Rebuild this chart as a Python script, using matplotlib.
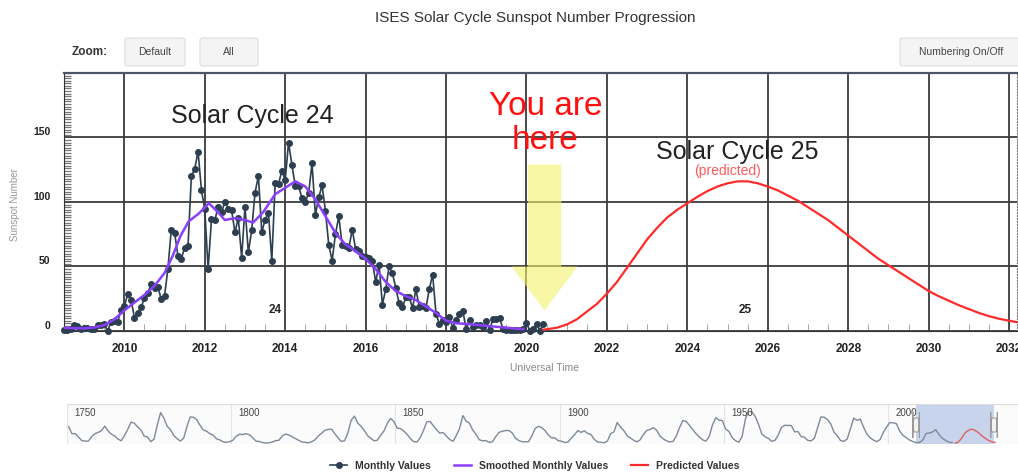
import matplotlib.pyplot as plt
import numpy as np
from matplotlib.patches import FancyBboxPatch, FancyArrow
from matplotlib.ticker import MultipleLocator, FormatStrFormatter
from matplotlib.transforms import ScaledTranslation, blended_transform_factory

plt.rcParams['font.family'] = ['Liberation Sans', 'DejaVu Sans']

# monthly sunspot numbers, Jul 2008 .. Jun 2020
first_year = 2008
first_month = 7
monthly = [0.8, 0.5, 1.8, 4.9, 4.0, 1.3,
           2.2, 2.3, 1.2, 1.3, 4.8, 4.9, 5.3, 0.0, 7.0, 7.7, 7.0, 16.2,
           19.5, 28.5, 24.0, 10.4, 13.9, 18.8, 25.2, 29.6, 36.4, 33.6, 34.4, 24.5,
           27.3, 48.3, 78.6, 76.1, 58.2, 56.1, 64.5, 65.8, 120.1, 125.7, 139.1, 109.3,
           94.4, 47.8, 86.6, 85.9, 96.5, 92.0, 100.1, 94.8, 93.7, 76.5, 87.6, 56.8,
           96.1, 60.9, 78.3, 107.3, 120.2, 76.7, 86.2, 91.8, 54.5, 114.4, 113.9, 124.2,
           117.0, 146.1, 128.7, 112.5, 112.5, 102.9, 100.2, 106.9, 130.0, 90.0, 103.6, 112.9,
           93.0, 66.7, 54.5, 75.3, 88.8, 66.5, 65.8, 64.4, 78.6, 63.6, 62.2, 58.0,
           57.0, 56.4, 54.1, 37.9, 51.5, 20.5, 32.4, 50.2, 44.6, 33.4, 21.4, 18.5,
           26.1, 26.4, 17.7, 32.3, 18.9, 19.2, 17.8, 32.6, 43.7, 13.2, 5.7, 8.2,
           6.8, 10.7, 2.5, 8.9, 13.1, 15.6, 1.6, 8.7, 3.3, 4.9, 4.9, 3.1,
           7.7, 0.8, 9.4, 9.1, 9.9, 1.2, 0.9, 0.5, 1.1, 0.4, 0.5, 1.5,
           6.2, 0.2, 1.5, 5.2, 0.2, 5.8]
month_t = first_year + (first_month - 1 + np.arange(len(monthly))) / 12

# smoothed monthly values
smooth_t = [2008.5, 2008.75, 2009.0, 2009.25, 2009.5, 2009.75, 2010.0, 2010.25,
            2010.5, 2010.75, 2011.0, 2011.2, 2011.4, 2011.6, 2011.85, 2012.1,
            2012.3, 2012.5, 2012.75, 2013.0, 2013.2, 2013.45, 2013.75, 2014.0,
            2014.25, 2014.5, 2014.75, 2015.0, 2015.25, 2015.5, 2015.75, 2016.0,
            2016.25, 2016.5, 2016.75, 2017.0, 2017.25, 2017.5, 2017.75, 2018.0,
            2018.25, 2018.5, 2018.75, 2019.0, 2019.25, 2019.5, 2019.75, 2019.92]
smooth = [2.5, 2.2, 2.0, 2.8, 4.5, 9, 16, 22,
          28, 35, 45, 58, 74, 85, 91, 99,
          93, 86, 87.5, 86, 84, 92, 106, 111,
          116, 112, 102, 89, 76, 67, 62, 56,
          48, 38, 31, 27, 24, 19, 14, 8,
          6, 5.5, 4.8, 4.0, 3.3, 2.6, 1.8, 1.5]

# predicted cycle 25
pred_t = [2020.42, 2020.75, 2021.0, 2021.25, 2021.5, 2021.75, 2022.0, 2022.25, 2022.5,
          2022.75, 2023.0, 2023.25, 2023.5, 2023.75, 2024.0, 2024.25, 2024.5, 2024.75,
          2025.0, 2025.25, 2025.5, 2025.75, 2026.0, 2026.25, 2026.5, 2026.75, 2027.0,
          2027.25, 2027.5, 2027.75, 2028.0, 2028.25, 2028.5, 2028.75, 2029.0, 2029.25,
          2029.5, 2029.75, 2030.0, 2030.25, 2030.5, 2030.75, 2031.0, 2031.25, 2031.5,
          2031.75, 2032.0, 2032.25, 2032.5]
pred = [1, 2.5, 5, 9, 15, 21, 29, 38, 49,
        60, 71, 80, 88, 94, 99, 104, 108.5, 112,
        114.5, 116, 116, 114.5, 112, 109, 105, 101, 96,
        91, 86, 80, 74, 68, 62, 56, 51, 46,
        41, 36, 31, 27, 23.5, 20, 17, 14, 11.5,
        9.5, 8, 6.5, 5.5]

# yearly sunspot numbers 1750..2019 for the navigator strip
hist_start = 1750
hist = [139.0, 79.2, 79.7, 51.2, 20.3, 16.0, 17.0, 54.0, 79.3, 90.0,
        104.8, 143.2, 102.0, 75.2, 60.7, 34.8, 19.0, 63.0, 116.3, 176.8,
        168.0, 136.0, 110.8, 58.0, 51.0, 11.7, 33.0, 154.2, 257.3, 209.8,
        141.3, 113.5, 64.2, 38.0, 17.0, 40.2, 138.2, 220.0, 218.2, 196.8,
        149.8, 111.0, 100.0, 78.2, 68.3, 35.5, 26.7, 10.7, 6.8, 11.3,
        24.2, 56.7, 75.0, 71.8, 79.2, 70.3, 46.8, 16.8, 13.5, 4.2,
        0.0, 2.3, 8.3, 20.3, 23.2, 59.0, 76.3, 68.3, 52.9, 38.5,
        24.2, 9.2, 6.3, 2.2, 11.4, 28.2, 59.9, 83.0, 108.5, 115.2,
        117.4, 80.8, 44.3, 13.4, 19.5, 85.8, 192.7, 227.3, 168.7, 143.0,
        105.5, 63.3, 40.3, 18.1, 25.1, 65.8, 102.7, 166.3, 208.3, 182.5,
        126.3, 122.0, 102.7, 74.1, 39.0, 12.7, 8.2, 43.4, 104.4, 178.3,
        182.2, 146.6, 112.1, 83.5, 89.2, 57.8, 30.7, 13.9, 62.8, 123.6,
        232.0, 185.3, 169.2, 110.1, 74.5, 28.3, 18.9, 20.7, 5.7, 10.0,
        53.7, 90.5, 99.0, 106.1, 105.8, 86.3, 42.4, 21.8, 11.2, 10.4,
        11.8, 59.5, 121.7, 142.0, 130.0, 106.6, 69.4, 43.8, 44.4, 20.2,
        15.7, 4.6, 8.5, 40.8, 70.1, 105.5, 90.1, 102.8, 80.9, 73.2,
        30.9, 9.5, 6.0, 2.4, 16.1, 79.0, 95.0, 173.6, 134.6, 105.7,
        62.7, 43.5, 23.7, 9.7, 27.9, 74.0, 106.5, 114.7, 129.7, 108.2,
        59.4, 35.1, 18.6, 9.2, 14.6, 60.2, 132.8, 190.6, 182.6, 148.0,
        113.0, 79.2, 50.8, 27.1, 16.1, 55.3, 154.3, 214.7, 193.0, 190.7,
        118.9, 98.3, 45.0, 20.1, 6.6, 54.2, 200.7, 269.3, 261.7, 225.1,
        159.0, 76.4, 53.4, 39.9, 15.0, 22.0, 66.8, 132.9, 150.0, 149.4,
        148.0, 94.4, 97.6, 54.1, 49.2, 22.5, 18.4, 39.3, 131.0, 220.1,
        218.9, 198.9, 162.4, 91.0, 60.5, 20.6, 14.8, 33.9, 123.0, 211.1,
        191.8, 203.3, 133.0, 76.1, 44.9, 25.1, 11.6, 28.9, 88.3, 136.3,
        173.9, 170.4, 163.6, 99.3, 65.3, 45.8, 24.7, 12.6, 4.2, 4.8,
        24.9, 80.8, 84.5, 94.0, 113.3, 69.8, 39.8, 21.7, 7.0, 3.6]
hist_t = hist_start + 0.5 + np.arange(len(hist))
nav_labels = [1750, 1800, 1850, 1900, 1950, 2000]

fig = plt.figure(figsize=(10.18, 4.74), dpi=100)
ax = fig.add_axes([0.0629, 0.3017, 0.9362, 0.5443])
ax.set_xlim(2008.5, 2032.2)
ax.set_ylim(0, 200)

ax.xaxis.set_major_locator(MultipleLocator(2))
ax.xaxis.set_major_formatter(FormatStrFormatter('%d'))
ax.xaxis.set_minor_locator(MultipleLocator(0.5))
ax.set_yticks([0, 50, 100, 150])
ax.yaxis.set_minor_locator(MultipleLocator(2))
ax.grid(True, which='major', color='#3c3c3c', lw=1.3)
ax.set_axisbelow(True)
ax.tick_params(axis='x', which='major', length=0, pad=9, labelsize=8.5, labelcolor='#222')
ax.tick_params(axis='x', which='minor', direction='in', length=5, color='#999')
ax.tick_params(axis='y', which='major', length=0, pad=10, labelsize=7.5, labelcolor='#222')
ax.tick_params(axis='y', which='minor', direction='in', length=5, color='#777', width=0.9)
for lab in ax.get_xticklabels() + ax.get_yticklabels():
    lab.set_fontweight('bold')
for lab in ax.get_yticklabels():
    lab.set_transform(lab.get_transform() + ScaledTranslation(0, 6 / 100, fig.dpi_scale_trans))

for s in ['left', 'bottom']:
    ax.spines[s].set_color('#333')
ax.spines['top'].set_color('#4a5568')
ax.spines['top'].set_linewidth(1.6)
ax.spines['right'].set_color('#777')
ax.spines['right'].set_linestyle(':')

ax.add_patch(FancyArrow(2020.45, 129, 0, -113, width=0.83, head_width=1.64, head_length=34,
                        length_includes_head=True, fc='#f2f26a', ec='none', alpha=0.6, zorder=3))

l_month, = ax.plot(month_t, monthly, color='#2c3e50', lw=1.2, marker='o', ms=4,
                   zorder=4, clip_on=False, label='Monthly Values')
l_smooth, = ax.plot(smooth_t, smooth, color='#8a3ffc', lw=1.8, zorder=5,
                    label='Smoothed Monthly Values')
l_pred, = ax.plot(pred_t, pred, color='#ff2b2b', lw=1.6, zorder=5, label='Predicted Values')

ax.text(2013.18, 166.5, 'Solar Cycle 24', ha='center', va='center', fontsize=18, color='#222')
ax.text(2025.25, 138.5, 'Solar Cycle 25', ha='center', va='center', fontsize=18, color='#222')
ax.text(2025.0, 124, '(predicted)', ha='center', va='center', fontsize=10, color='#ff5a5a')
ax.text(2020.47, 161, 'You are\nhere', ha='center', va='center', fontsize=24,
        color='#ff1010', linespacing=1.15)
ax.text(2013.76, 16, '24', ha='center', va='center', fontsize=8.5, fontweight='bold', color='#222')
ax.text(2025.43, 16, '25', ha='center', va='center', fontsize=8.5, fontweight='bold', color='#222')

fig.text(535 / 1018, 1 - 18 / 474, 'ISES Solar Cycle Sunspot Number Progression',
         ha='center', va='center', fontsize=11, color='#333')
fig.text(545 / 1018, 1 - 368 / 474, 'Universal Time', ha='center', va='center',
         fontsize=7.5, color='#888')
fig.text(15 / 1018, 1 - 205 / 474, 'Sunspot Number', ha='center', va='center',
         rotation=90, fontsize=7, color='#999')

# zoom buttons
fig.text(90 / 1018, 1 - 52 / 474, 'Zoom:', ha='center', va='center', fontsize=8.5,
         fontweight='bold', color='#333')
buttons = [('Default', 125, 60, 155), ('All', 200, 58, 229), ('Numbering On/Off', 900, 125, 961)]
for txt, bx, bw, tx in buttons:
    fig.add_artist(FancyBboxPatch((bx / 1018, 1 - 66 / 474), bw / 1018, 28 / 474,
                                  boxstyle='round,pad=0,rounding_size=0.004',
                                  transform=fig.transFigure, fc='#f4f4f4', ec='#dddddd', lw=0.8))
    fig.text(tx / 1018, 1 - 52 / 474, txt, ha='center', va='center', fontsize=7.5, color='#444')

# navigator strip
nav = fig.add_axes([67 / 1018, 30 / 474, 951 / 1018, 40 / 474])
nav.set_xlim(1750, 2039.5)
nav.set_ylim(-8, 330)
nav.set_facecolor('#fbfbfb')
for s in ['left', 'right', 'bottom']:
    nav.spines[s].set_visible(False)
nav.spines['top'].set_color('#dddddd')
nav.set_xticks(nav_labels)
nav.set_yticks([])
nav.tick_params(axis='x', length=0, labelbottom=False)
nav.grid(True, axis='x', color='#e4e4e4', lw=0.8)
tr = blended_transform_factory(nav.transData, nav.transAxes)
for yr in nav_labels:
    nav.text(yr + 2.2, 0.9, str(yr), transform=tr, ha='left', va='top', fontsize=7, color='#444')
nav.axvspan(2008.5, 2032.2, color='#b3c2e6', alpha=0.7, zorder=1, lw=0)
nav.plot(hist_t, hist, color='#7d8a9a', lw=1, zorder=2)
nav.plot(pred_t, pred, color='#e06060', lw=1, zorder=2)
for hx in [2008.5, 2032.2]:
    nav.add_patch(FancyBboxPatch((hx - 1.0, 0.3), 2.0, 0.35, transform=tr,
                                 boxstyle='round,pad=0,rounding_size=0.5',
                                 fc='#f2f2f2', ec='#999999', lw=0.7, zorder=3))

fig.legend([l_month, l_smooth, l_pred],
           ['Monthly Values', 'Smoothed Monthly Values', 'Predicted Values'],
           loc='center', bbox_to_anchor=(535 / 1018, 8 / 474), ncol=3, frameon=False,
           prop={'weight': 'bold', 'size': 7.5}, handlelength=1.6, columnspacing=2.2,
           labelcolor='#333')

fig.savefig('out.png', dpi=100)
